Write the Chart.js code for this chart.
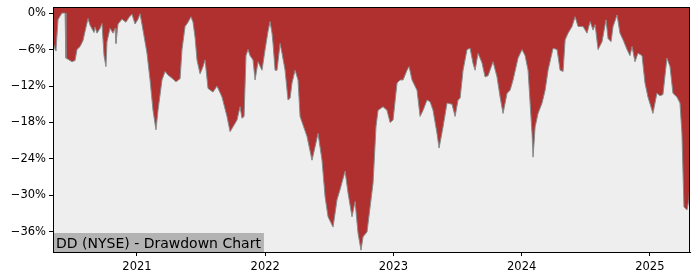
<!DOCTYPE html>
<html>
<head>
<meta charset="utf-8">
<script src="https://cdn.jsdelivr.net/npm/chart.js@4"></script>
<style>
  html, body { margin: 0; padding: 0; background: #fff; }
  #wrap { width: 700px; height: 280px; }
</style>
</head>
<body>
<div id="wrap"><canvas id="ddChart"></canvas></div>
<script>
// time as decimal year, drawdown in percent
const years = [
  2020.345, 2020.361, 2020.368, 2020.384, 2020.400, 2020.415, 2020.439, 2020.446, 2020.462, 2020.493,
  2020.517, 2020.532, 2020.556, 2020.579, 2020.595, 2020.618, 2020.634, 2020.665, 2020.673, 2020.688,
  2020.712, 2020.727, 2020.743, 2020.758, 2020.766, 2020.790, 2020.813, 2020.829, 2020.836, 2020.852,
  2020.883, 2020.914, 2020.938, 2020.961, 2020.985, 2021.008, 2021.024, 2021.047, 2021.078, 2021.102,
  2021.125, 2021.148, 2021.164, 2021.195, 2021.219, 2021.242, 2021.273, 2021.304, 2021.336, 2021.351,
  2021.375, 2021.398, 2021.421, 2021.437, 2021.453, 2021.468, 2021.492, 2021.515, 2021.531, 2021.554,
  2021.593, 2021.624, 2021.663, 2021.702, 2021.726, 2021.749, 2021.780, 2021.804, 2021.819, 2021.835,
  2021.850, 2021.866, 2021.882, 2021.905, 2021.921, 2021.944, 2021.975, 2021.999, 2022.022, 2022.038,
  2022.053, 2022.061, 2022.077, 2022.092, 2022.116, 2022.131, 2022.155, 2022.178, 2022.194, 2022.209,
  2022.233, 2022.256, 2022.272, 2022.295, 2022.326, 2022.365, 2022.389, 2022.412, 2022.443, 2022.467,
  2022.490, 2022.529, 2022.560, 2022.584, 2022.623, 2022.646, 2022.677, 2022.701, 2022.724, 2022.747,
  2022.763, 2022.794, 2022.818, 2022.841, 2022.864, 2022.880, 2022.919, 2022.950, 2022.974, 2022.997,
  2023.028, 2023.052, 2023.075, 2023.106, 2023.122, 2023.145, 2023.184, 2023.208, 2023.231, 2023.262,
  2023.286, 2023.309, 2023.340, 2023.356, 2023.387, 2023.418, 2023.457, 2023.481, 2023.504, 2023.520,
  2023.543, 2023.574, 2023.598, 2023.621, 2023.637, 2023.660, 2023.691, 2023.715, 2023.738, 2023.777,
  2023.808, 2023.832, 2023.855, 2023.886, 2023.910, 2023.933, 2023.972, 2024.003, 2024.027, 2024.050,
  2024.081, 2024.089, 2024.105, 2024.128, 2024.159, 2024.183, 2024.206, 2024.245, 2024.276, 2024.300,
  2024.323, 2024.339, 2024.362, 2024.393, 2024.417, 2024.440, 2024.479, 2024.510, 2024.534, 2024.557,
  2024.573, 2024.596, 2024.627, 2024.658, 2024.674, 2024.697, 2024.713, 2024.744, 2024.767, 2024.791,
  2024.822, 2024.845, 2024.861, 2024.884, 2024.907, 2024.939, 2024.962, 2024.985, 2025.024, 2025.055,
  2025.079, 2025.102, 2025.133, 2025.157, 2025.180, 2025.211, 2025.235, 2025.250, 2025.266, 2025.289,
  2025.305, 2025.313
];
const drawdown = [
  -4.8, -6.0, -6.2, -1.1, -0.5, 0, 0, -7.4, -7.6, -8.0,
  -7.8, -6.0, -5.5, -4.5, -3.0, -0.9, -2.0, -3.2, -2.3, -3.3,
  -2.5, -1.7, -7.0, -8.8, -4.7, -2.5, -3.3, -2.5, -5.0, -1.8,
  -1.0, -1.5, -0.7, -0.2, -1.8, -1.0, -0.1, -2.8, -6.6, -11.0,
  -16.0, -19.2, -16.0, -11.0, -9.6, -10.2, -10.7, -11.3, -10.8, -6.0,
  -2.2, -1.5, -0.6, -1.5, -4.0, -7.7, -10.0, -8.8, -7.7, -12.4,
  -13.0, -12.0, -13.8, -17.0, -19.5, -18.7, -17.6, -15.4, -17.3, -17.0,
  -7.0, -6.0, -7.0, -7.7, -11.0, -8.0, -9.4, -6.0, -3.0, -1.4,
  -3.3, -5.0, -9.4, -9.4, -5.0, -6.6, -9.4, -14.3, -14.0, -11.5,
  -9.4, -11.0, -17.0, -18.4, -20.3, -24.2, -22.0, -19.8, -24.2, -30.2,
  -33.5, -35.2, -30.7, -29.0, -26.0, -29.6, -33.5, -31.0, -36.2, -39.0,
  -36.8, -36.0, -31.9, -28.0, -18.7, -16.0, -15.4, -16.0, -18.0, -17.6,
  -11.5, -11.0, -11.0, -9.4, -8.8, -11.0, -12.7, -17.0, -16.0, -14.3,
  -14.6, -16.0, -19.8, -22.2, -18.7, -14.8, -15.0, -17.0, -14.3, -14.0,
  -9.4, -6.0, -5.8, -8.3, -9.4, -6.6, -8.2, -10.5, -10.3, -8.0,
  -10.5, -13.8, -16.5, -13.2, -12.7, -11.0, -7.4, -6.0, -7.0, -9.4,
  -19.8, -23.7, -18.7, -16.5, -14.8, -12.7, -9.4, -5.8, -6.0, -9.4,
  -9.6, -4.4, -3.3, -2.2, -0.6, -2.2, -2.2, -3.3, -1.4, -2.8,
  -1.9, -6.0, -4.7, -1.1, -4.2, -4.7, -2.2, -0.3, -3.3, -4.4,
  -6.0, -7.0, -5.5, -8.0, -6.6, -7.0, -11.5, -13.8, -16.5, -13.2,
  -13.6, -13.4, -7.4, -8.8, -13.2, -13.8, -14.8, -19.8, -31.9, -32.4,
  -30.7, -28.0
];
const yearTicks = [2021, 2022, 2023, 2024, 2025];
const pctTicks = [0, -6, -12, -18, -24, -30, -36];
const chartTitle = 'DD (NYSE) - Drawdown Chart';

const points = years.map((t, i) => ({ x: t, y: drawdown[i] }));

const frame = {
  id: 'frame',
  beforeDraw(chart) {
    const { ctx, chartArea: a } = chart;
    ctx.save();
    ctx.fillStyle = '#eeeeee';
    ctx.fillRect(a.left, a.top, a.right - a.left, a.bottom - a.top);
    ctx.restore();
  },
  afterDraw(chart) {
    const { ctx, chartArea: a } = chart;
    ctx.save();
    ctx.font = '14px "DejaVu Sans"';
    const w = ctx.measureText(chartTitle).width;
    ctx.fillStyle = '#b3b3b3';
    ctx.fillRect(a.left, a.bottom - 19, w + 6, 19);
    ctx.fillStyle = '#000';
    ctx.textBaseline = 'alphabetic';
    ctx.fillText(chartTitle, a.left + 3, a.bottom - 4);
    ctx.strokeStyle = '#000';
    ctx.lineWidth = 1;
    ctx.strokeRect(a.left + 0.5, a.top + 0.5, a.right - a.left - 1, a.bottom - a.top);
    ctx.restore();
  }
};

new Chart(document.getElementById('ddChart'), {
  type: 'line',
  data: {
    datasets: [{
      data: points,
      fill: 'end',
      backgroundColor: '#b02f2f',
      borderColor: '#8a8a8a',
      borderWidth: 1,
      pointRadius: 0,
      tension: 0
    }]
  },
  options: {
    responsive: true,
    maintainAspectRatio: false,
    animation: false,
    layout: { padding: { top: 7, right: 10, left: 0, bottom: 0 } },
    plugins: {
      legend: { display: false },
      tooltip: { enabled: false }
    },
    scales: {
      x: {
        type: 'linear',
        min: 2020.345,
        max: 2025.313,
        afterBuildTicks: (s) => { s.ticks = yearTicks.map(v => ({ value: v })); },
        afterFit: (s) => { s.height = 28; s.paddingLeft = 0; s.paddingRight = 0; },
        grid: { drawOnChartArea: false, tickLength: 4, color: '#000' },
        border: { display: true, color: '#000' },
        ticks: {
          color: '#000',
          padding: 4,
          maxRotation: 0,
          font: { family: 'DejaVu Sans', size: 11.5 },
          callback: (v) => String(v)
        }
      },
      y: {
        min: -39.3,
        max: 1.0,
        afterBuildTicks: (s) => { s.ticks = pctTicks.map(v => ({ value: v })); },
        afterFit: (s) => { s.width = 53; s.paddingTop = 0; s.paddingBottom = 0; },
        grid: { drawOnChartArea: false, tickLength: 4, color: '#000' },
        border: { display: true, color: '#000' },
        ticks: {
          color: '#000',
          padding: 3,
          font: { family: 'DejaVu Sans', size: 11.5 },
          callback: (v) => (v < 0 ? '\u2212' + Math.abs(v) : v) + '%'
        }
      }
    }
  },
  plugins: [frame]
});
</script>
</body>
</html>
